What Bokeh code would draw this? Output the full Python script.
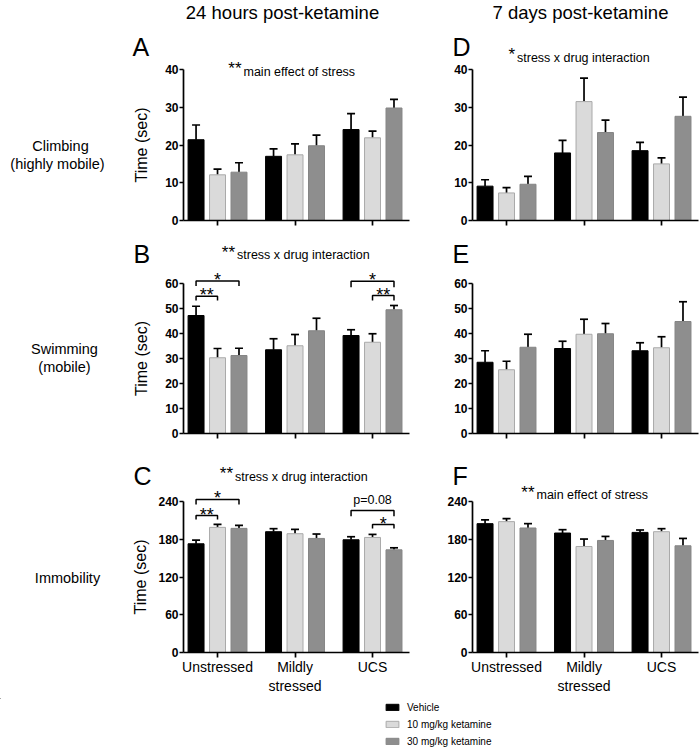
import numpy as np
from bokeh.plotting import figure
from bokeh.models import (Range1d, FixedTicker, ColumnDataSource, Whisker, TeeHead,
                          Legend, LegendItem)
from bokeh.layouts import column, row
from bokeh.embed import file_html
from bokeh.resources import INLINE
from bokeh.core.properties import value

FONT = "Liberation Sans"

# ---------------- data ----------------
groups = ["Unstressed", "Mildly stressed", "UCS"]
group_tick_labels = ["Unstressed", "Mildly\nstressed", "UCS"]
drugs = ["Vehicle", "10 mg/kg ketamine", "30 mg/kg ketamine"]
drug_fill = ["#000000", "#dadada", "#8e8e8e"]
drug_line = ["#000000", "#aaaaaa", "#858585"]

col_titles = ["24 hours post-ketamine", "7 days post-ketamine"]
row_titles = [["Climbing", "(highly mobile)"], ["Swimming", "(mobile)"], ["Immobility"]]
panel_letters = ["A", "B", "C", "D", "E", "F"]
y_title = "Time (sec)"

# mean time (sec): one list per drug, values per stress group
climb_24h_mean = [[21.4, 17.0, 24.1], [12.1, 17.4, 21.9], [12.8, 19.8, 29.8]]
climb_24h_sem = [[3.9, 2.0, 4.2], [1.5, 2.9, 1.8], [2.5, 2.8, 2.3]]
swim_24h_mean = [[47.2, 33.5, 39.2], [30.3, 35.1, 36.5], [31.2, 41.1, 49.5]]
swim_24h_sem = [[3.7, 4.4, 2.3], [3.7, 4.5, 3.4], [2.9, 5.0, 1.7]]
immob_24h_mean = [[172.8, 192.0, 179.2], [198.9, 188.8, 182.9], [197.3, 181.3, 163.2]]
immob_24h_sem = [[5.9, 4.8, 4.8], [4.8, 6.9, 4.8], [4.8, 7.0, 3.2]]
climb_7d_mean = [[9.1, 17.9, 18.5], [7.3, 31.5, 15.0], [9.6, 23.3, 27.6]]
climb_7d_sem = [[1.7, 3.3, 2.2], [1.4, 6.2, 1.6], [2.1, 3.3, 5.1]]
swim_7d_mean = [[28.5, 34.0, 33.1], [25.5, 39.7, 34.3], [34.5, 39.9, 44.8]]
swim_7d_sem = [[4.6, 2.9, 3.2], [3.4, 6.0, 4.4], [5.2, 4.1, 7.9]]
immob_7d_mean = [[204.8, 189.9, 190.9], [208.0, 168.5, 192.0], [197.9, 178.1, 169.6]]
immob_7d_sem = [[5.9, 5.3, 3.8], [4.8, 11.8, 4.8], [6.9, 6.4, 11.7]]

# y axis: (max, step)
climb_axis = (40, 10)
swim_axis = (60, 10)
immob_axis = (240, 60)

# significance brackets: group, drug from, drug to, bracket top, bracket foot, label
swim_24h_brackets = [(0, 0, 2, 61.0, 59.0, "*"), (0, 0, 1, 54.9, 53.2, "**"),
                     (2, 0, 2, 60.9, 58.5, "*"), (2, 1, 2, 55.2, 53.2, "**")]
immob_24h_brackets = [(0, 0, 2, 243.2, 235.2, "*"), (0, 0, 1, 217.7, 211.4, "**"),
                      (2, 0, 2, 225.7, 216.6, "p=0.08"), (2, 1, 2, 203.4, 197.1, "*")]

# statistical notes: stars, text
note_A = ("**", "main effect of stress")
note_B = ("**", "stress x drug interaction")
note_C = ("**", "stress x drug interaction")
note_D = ("*", "stress x drug interaction")
note_F = ("**", "main effect of stress")

# ---------------- styling / geometry ----------------
OFFSETS = [-0.277, 0.0, 0.277]
BAR_W = 0.206
XSTART = -0.439
XEND = 2.477
PX_PER_GROUP = 77.5


def base_fig(w, h, **kw):
    p = figure(width=w, height=h, toolbar_location=None, output_backend="svg", **kw)
    p.outline_line_color = None
    p.background_fill_color = "white"
    p.border_fill_color = "white"
    p.frame_align = False
    return p


def band(x0, x1, y0, y1):
    p = base_fig(x1 - x0, y1 - y0, x_range=Range1d(x0, x1), y_range=Range1d(y1, y0),
                 x_axis_location=None, y_axis_location=None, min_border=0)
    p.grid.visible = False
    return p


def put_text(p, x, y, s, size, align="left", dy=0, **kw):
    # middle-anchored text; dy shifts it in pixels
    p.text(x=[x], y=[y], text=[s], text_font=value(FONT), text_font_size=size,
           text_align=align, text_baseline="middle", text_color="black",
           y_offset=dy, **kw)


class Panel:
    """Bar panel; its frame fills the figure, both axes sit at fixed locations."""

    def __init__(self, mean, sem, axis, fig_x0, fig_x1, row_top, row_bottom, axis_px,
                 zero_px, axis_top_px, ylabel, xlabels, standoff=12, brackets=()):
        ymax, ystep = axis
        self.axis_px = axis_px
        self.zero_px = zero_px
        self.ppu = (zero_px - axis_top_px) / ymax
        ytop = (zero_px - row_top) / self.ppu
        ybot = -(row_bottom - zero_px) / self.ppu
        x0 = XSTART - (axis_px - fig_x0) / PX_PER_GROUP
        x1 = XSTART + (fig_x1 - axis_px) / PX_PER_GROUP
        p = base_fig(fig_x1 - fig_x0, row_bottom - row_top, x_range=Range1d(x0, x1),
                     y_range=Range1d(ybot, ytop), min_border=0)
        self.p = p
        gx = np.arange(len(groups))
        for d in range(len(drugs)):
            xs = gx + OFFSETS[d]
            top = np.array(mean[d], dtype=float)
            upper = top + np.array(sem[d], dtype=float)
            src = ColumnDataSource(dict(x=xs, top=top, upper=upper))
            p.vbar(x="x", top="top", bottom=0, width=BAR_W, source=src,
                   fill_color=drug_fill[d], line_color=drug_line[d], line_width=1)
            p.add_layout(Whisker(source=src, base="x", lower="top", upper="upper",
                                 dimension="height", line_color="black", line_width=1.7,
                                 lower_head=None,
                                 upper_head=TeeHead(size=8, line_color="black",
                                                    line_width=1.7)))
        for g, d1, d2, ytopb, yfoot, lab in brackets:
            xa1 = g + OFFSETS[d1]
            xa2 = g + OFFSETS[d2]
            p.line(x=[xa1, xa1, xa2, xa2], y=[yfoot, ytopb, ytopb, yfoot],
                   line_color="black", line_width=1.5)
            if lab.startswith("*"):
                put_text(p, (xa1 + xa2) / 2, ytopb, lab, "18px", align="center", dy=-1)
            else:
                put_text(p, (xa1 + xa2) / 2, ytopb, lab, "12.5px", align="center", dy=-10)

        ya = p.yaxis[0]
        ya.ticker = FixedTicker(ticks=list(range(0, ymax + 1, ystep)))
        ya.bounds = (0, ymax)
        ya.fixed_location = XSTART
        xa = p.xaxis[0]
        xa.ticker = FixedTicker(ticks=[int(i) for i in gx])
        xa.bounds = (XSTART, min(XEND, x1))
        xa.fixed_location = 0
        for ax in (xa, ya):
            ax.axis_line_width = 1.7
            ax.axis_line_color = "black"
            ax.major_tick_line_width = 1.7
            ax.major_tick_line_color = "black"
            ax.major_tick_in = 0
            ax.minor_tick_line_color = None
            ax.major_label_text_color = "black"
            ax.major_label_text_font = FONT
        ya.major_tick_out = 4
        ya.major_label_standoff = 1
        ya.major_label_text_font_size = "12px"
        ya.major_label_text_font_style = "bold"
        xa.major_tick_out = 5
        if ylabel:
            ya.axis_label = y_title
            ya.axis_label_text_font = FONT
            ya.axis_label_text_font_size = "16px"
            ya.axis_label_text_font_style = "normal"
            ya.axis_label_text_color = "black"
            ya.axis_label_standoff = standoff
        if xlabels:
            xa.major_label_overrides = {int(i): group_tick_labels[i] for i in gx}
            xa.major_label_text_font_size = "14px"
            xa.major_label_standoff = 1
        else:
            xa.major_label_overrides = {int(i): "" for i in gx}
            xa.major_label_text_font_size = "0px"
            xa.major_label_standoff = 0
        p.xgrid.visible = False
        p.ygrid.visible = False

    # pixel -> data helpers for placing annotation texts
    def dx(self, px):
        return XSTART + (px - self.axis_px) / PX_PER_GROUP

    def dy(self, py):
        return (self.zero_px - py) / self.ppu

    def letter(self, s, px, py_center):
        put_text(self.p, self.dx(px), self.dy(py_center), s, "25px")

    def note(self, note, px, py_base, gap=1):
        stars, txt = note
        put_text(self.p, self.dx(px), self.dy(py_base), stars, "17px", align="right",
                 x_offset=-gap, dy=-7)
        put_text(self.p, self.dx(px), self.dy(py_base), txt, "12.5px", align="left",
                 x_offset=gap, dy=-4)


LX0, LX1, RX1 = 130, 440, 700
LFL, RFL = 183, 472   # y-axis positions (px) of left / right panels
ROW_C_BOTTOM = 698

# ---------------- header ----------------
header = band(0, RX1, 0, 30)
put_text(header, 282, 12, col_titles[0], "18.5px", align="center")
put_text(header, 580, 12, col_titles[1], "18.5px", align="center")

# ---------------- row A / D ----------------
labA = band(0, LX0, 30, 232)
put_text(labA, 60, 145, row_titles[0][0], "14.5px", align="center")
put_text(labA, 57, 163, row_titles[0][1], "14.5px", align="center")
A = Panel(climb_24h_mean, climb_24h_sem, climb_axis, LX0, LX1, 30, 232, LFL, 220, 69,
          True, False, standoff=12)
A.letter(panel_letters[0], 132, 46)
A.note(note_A, 242, 75)
D = Panel(climb_7d_mean, climb_7d_sem, climb_axis, LX1, RX1, 30, 232, RFL, 220, 69,
          False, False)
D.letter(panel_letters[3], 452, 46)
D.note(note_D, 515.5, 61)
rowA = row(labA, A.p, D.p)

# ---------------- row B / E ----------------
labB = band(0, LX0, 232, 450)
put_text(labB, 64, 348, row_titles[1][0], "14.5px", align="center")
put_text(labB, 64, 366, row_titles[1][1], "14.5px", align="center")
B = Panel(swim_24h_mean, swim_24h_sem, swim_axis, LX0, LX1, 232, 450, LFL, 433, 283,
          True, False, standoff=12, brackets=swim_24h_brackets)
B.letter(panel_letters[1], 133, 253.5)
B.note(note_B, 235.5, 258.5)
E = Panel(swim_7d_mean, swim_7d_sem, swim_axis, LX1, RX1, 232, 450, RFL, 433, 283,
          False, False)
E.letter(panel_letters[4], 452, 253.5)
rowB = row(labB, B.p, E.p)

# ---------------- row C / F ----------------
labC = band(0, LX0, 450, ROW_C_BOTTOM)
put_text(labC, 67, 577, row_titles[2][0], "14.5px", align="center")
C = Panel(immob_24h_mean, immob_24h_sem, immob_axis, LX0, LX1, 450, ROW_C_BOTTOM, LFL,
          652, 501, True, True, standoff=6, brackets=immob_24h_brackets)
C.letter(panel_letters[2], 133, 475)
C.note(note_C, 233.5, 480)
F = Panel(immob_7d_mean, immob_7d_sem, immob_axis, LX1, RX1, 450, ROW_C_BOTTOM, RFL,
          652, 501, False, True)
F.letter(panel_letters[5], 452, 475)
F.note(note_F, 535, 498.5)
rowC = row(labC, C.p, F.p)

# ---------------- legend ----------------
leg_fig = band(0, RX1, ROW_C_BOTTOM, 748)
items = []
for d in range(len(drugs)):
    r = leg_fig.vbar(x=[-50], top=[0], width=1, fill_color=drug_fill[d],
                     line_color=drug_line[d])
    items.append(LegendItem(label=drugs[d], renderers=[r]))
legend = Legend(items=items, location=(384, 0), orientation="vertical",
                glyph_width=16, glyph_height=8, label_height=14, spacing=3,
                padding=0, margin=0, label_standoff=7, border_line_color=None,
                background_fill_alpha=0, label_text_font=FONT,
                label_text_font_size="10px", label_text_color="black")
leg_fig.add_layout(legend)

layout = column(header, rowA, rowB, rowC, leg_fig)

open("out.html", "w").write(file_html(layout, INLINE))
